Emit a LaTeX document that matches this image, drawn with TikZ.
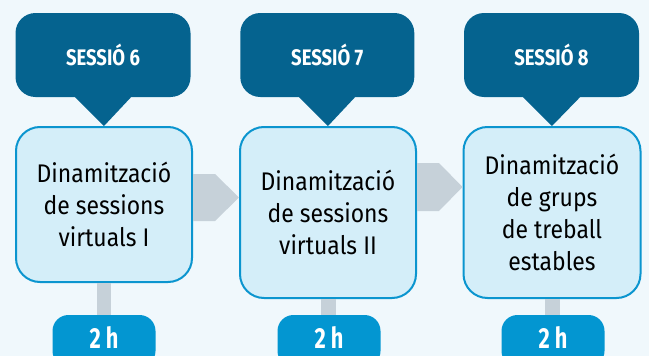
\documentclass[tikz,border=0pt]{standalone}
\usepackage{fontspec}
\setmainfont{Fira Sans}
\newfontfamily\boxfont[FakeStretch=0.9]{Fira Sans}
\newfontfamily\headfont[FakeStretch=0.82]{Fira Sans}
\newfontfamily\pillfont[FakeStretch=0.75]{Fira Sans}
\definecolor{bg}{HTML}{F0F8FC}
\definecolor{head}{HTML}{05638F}
\definecolor{boxfill}{HTML}{D4EEF9}
\definecolor{boxline}{HTML}{0B95CF}
\definecolor{pillc}{HTML}{0396D1}
\definecolor{conn}{HTML}{C6D1D9}
\tikzset{
  header/.style={fill=head, rounded corners=20pt, minimum width=175pt, minimum height=84pt,
    inner sep=0pt, text=white, font=\headfont\bfseries\fontsize{22.5}{26}\selectfont},
  stagebox/.style={fill=boxfill, draw=boxline, line width=2pt, rounded corners=24pt,
    minimum width=176pt, inner sep=0pt, align=center,
    font=\boxfont\fontsize{25.5}{32}\selectfont},
  pill/.style={fill=pillc, rounded corners=16pt, minimum width=103pt, minimum height=52pt,
    inner sep=0pt, text=white, text depth=0pt},
  conn/.style={fill=conn},
}
\begin{document}
\begin{tikzpicture}[x=1pt,y=-1pt]
\useasboundingbox (0,0) rectangle (649,356);
\clip (0,0) rectangle (649,356);
\fill[bg] (0,0) rectangle (649,356);

% headers
\node[header] (h1) at (103,55) {SESSIÓ 6};
\node[header, minimum width=174pt] (h2) at (327.3,55) {SESSIÓ 7};
\node[header] (h3) at (551.5,55) {SESSIÓ 8};

% boxes
\node[stagebox, minimum height=155pt] (b1) at (104,204.5) {Dinamització\\de sessions\\virtuals I};
\node[stagebox, minimum height=171pt] (b2) at (328,212.5) {Dinamització\\de sessions\\virtuals II};
\node[stagebox, minimum width=177pt, minimum height=171pt] (b3) at (552,212.5) {Dinamització\\de grups\\de treball\\estables};

% pointers
\fill[head] (h1.south -| 75,0) -- (h1.south -| 131,0) -- (b1.north) -- cycle;
\fill[head] (h2.south -| 299,0) -- (h2.south -| 355,0) -- (b2.north) -- cycle;
\fill[head] (h3.south -| 523,0) -- (h3.south -| 580,0) -- (b3.north) -- cycle;

% pills
\node[pill] (p1) at (104,341) {};
\node[pill] (p2) at (329,341) {};
\node[pill] (p3) at (553,341) {};
\node[text=white, font=\pillfont\bfseries\fontsize{29}{30}\selectfont] (t1) at (104,338) {2 h};
\node[text=white, font=\pillfont\bfseries\fontsize{29}{30}\selectfont] (t2) at (329,338) {2 h};
\node[text=white, font=\pillfont\bfseries\fontsize{29}{30}\selectfont] (t3) at (553,338) {2 h};

% stems
\fill[conn] ([xshift=-7pt]b1.south) rectangle ([xshift=7pt]p1.north);
\fill[conn] ([xshift=-7pt]b2.south) rectangle ([xshift=7pt]p2.north);
\fill[conn] ([xshift=-7pt]b3.south) rectangle ([xshift=7pt]p3.north);

% arrows
\fill[conn] (b1.east |- 0,174) -- (215,174) -- (b2.west |- 0,197.5) -- (215,221) -- (b1.east |- 0,221) -- cycle;
\fill[conn] (b2.east |- 0,163) -- (439,163) -- (b3.west |- 0,187) -- (439,211) -- (b2.east |- 0,211) -- cycle;
\end{tikzpicture}
\end{document}
